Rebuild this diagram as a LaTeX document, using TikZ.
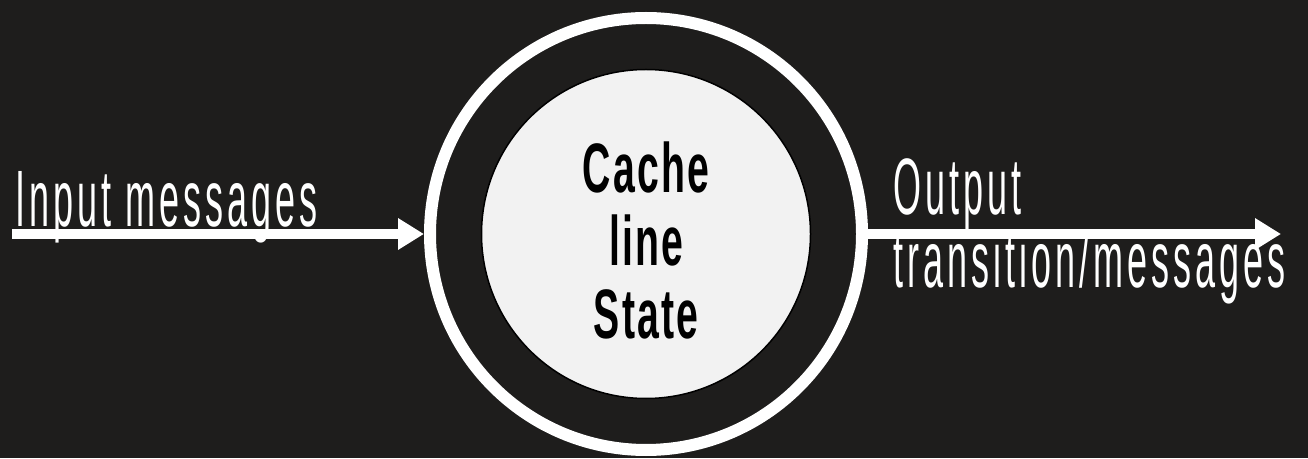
\documentclass[tikz,border=0pt]{standalone}
\usepackage{fontspec}
\setmainfont{Liberation Sans}
\newfontfamily\thinfont[FakeStretch=0.45, LetterSpace=5]{Liberation Sans}
\newfontfamily\boldnarrow[FakeStretch=0.56, LetterSpace=3]{Liberation Sans Bold}
\usetikzlibrary{arrows.meta}
\begin{document}
\begin{tikzpicture}[x=1pt, y=1pt,
    label text/.style={text=white, inner sep=0pt, font=\thinfont\fontsize{80}{80}\selectfont},
    msg arrow/.style={draw=white, line width=10pt, -{Triangle[length=26pt, width=30pt]}}]
    \definecolor{my-bg}{RGB}{30,29,28}
    \definecolor{my-light}{RGB}{242,242,242}
    \useasboundingbox (0,0) rectangle (1308,458);
    \fill[my-bg] (0,0) rectangle (1308,458);
    \node[circle, draw=white, line width=12pt, minimum size=432pt] (ring) at (646,224) {};
    \node[circle, draw=black, line width=1.5pt, fill=my-light, minimum size=329pt] (state) at (646,224) {};
    \node[align=center, inner sep=0pt, font=\boldnarrow\fontsize{70}{73}\selectfont] (state-text) at (646,218) {Cache\\line\\State};
    \coordinate (in-start) at (12,224);
    \coordinate (out-end) at (1281,224);
    \draw[msg arrow] (in-start) -- (ring.west);
    \draw[msg arrow] (ring.east) -- (out-end);
    \node[label text, anchor=base west] (in-label) at (15,231) {Input messages};
    \node[label text, anchor=base west] (out-label) at (893,243) {Output};
    \node[label text, anchor=base west] (out-label2) at (893,170) {transition/messages};
  \end{tikzpicture}
\end{document}
